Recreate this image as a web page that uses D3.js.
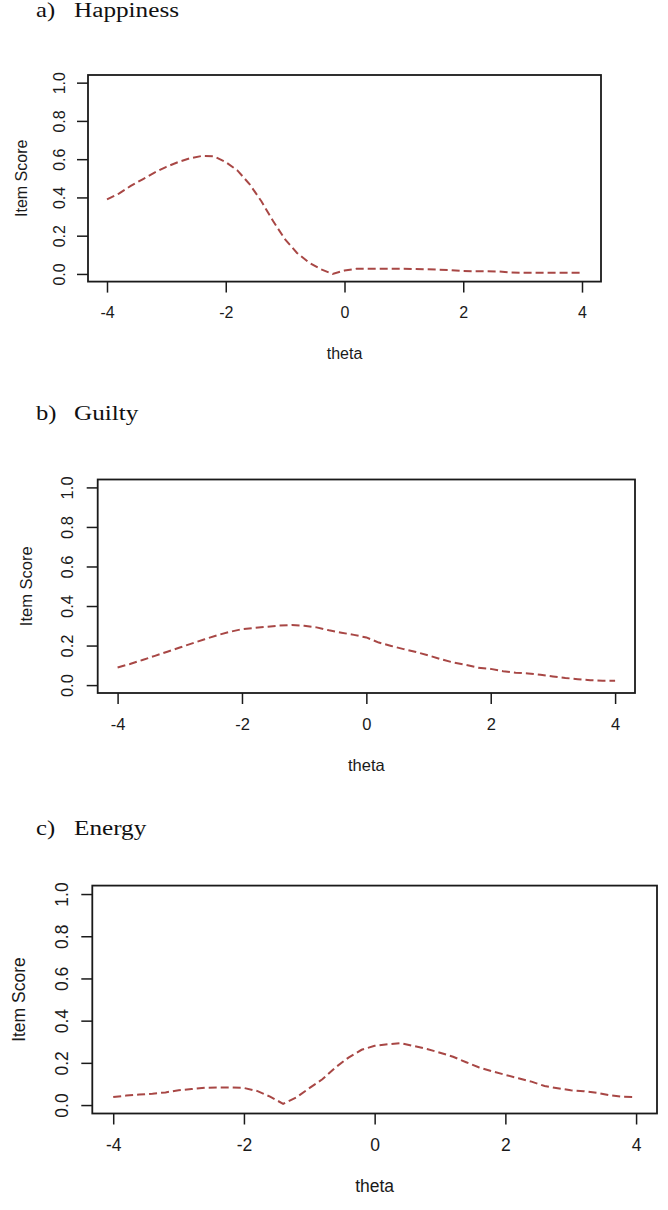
<!DOCTYPE html>
<html>
<head>
<meta charset="utf-8">
<script src="https://cdn.jsdelivr.net/npm/d3@7"></script>
<style>
  html, body { margin: 0; padding: 0; background: #fff; }
  svg { display: block; }
  .tick text { font-family: "Liberation Sans", Arial, sans-serif; fill: #1a1a1a; }
  .tick line { stroke: #1a1a1a; stroke-width: 1.5; }
</style>
</head>
<body>
<svg id="chart" width="668" height="1210"></svg>
<script>
// theta grid used by all three item curves
const theta = d3.range(41).map(i => -4 + i * 0.2);

const happiness = [
    0.39, 0.42, 0.46, 0.495, 0.53, 0.56, 0.585, 0.605, 0.617, 0.615,
    0.585, 0.54, 0.47, 0.38, 0.275, 0.18, 0.11, 0.06, 0.025, 0.0,
    0.018, 0.027, 0.027, 0.027, 0.027, 0.027, 0.026, 0.024, 0.022, 0.02,
    0.015, 0.014, 0.014, 0.013, 0.008, 0.006, 0.006, 0.006, 0.006, 0.006, 0.006
];

const guilty = [
    0.089, 0.107, 0.127, 0.148, 0.169, 0.19, 0.211, 0.232, 0.252, 0.269,
    0.283, 0.289, 0.295, 0.301, 0.304, 0.30, 0.292, 0.277, 0.265, 0.254,
    0.241, 0.215, 0.198, 0.182, 0.167, 0.15, 0.131, 0.114, 0.102, 0.088,
    0.082, 0.07, 0.063, 0.059, 0.052, 0.044, 0.036, 0.03, 0.025, 0.022, 0.022
];

const energy = [
    0.038, 0.045, 0.05, 0.054, 0.06, 0.07, 0.076, 0.082, 0.083, 0.083,
    0.081, 0.067, 0.04, 0.006, 0.036, 0.08, 0.122, 0.178, 0.225, 0.262,
    0.281, 0.288, 0.293, 0.28, 0.266, 0.248, 0.229, 0.203, 0.178, 0.16,
    0.143, 0.127, 0.111, 0.09, 0.08, 0.07, 0.066, 0.058, 0.046, 0.039, 0.038
];

const xTicks = [-4, -2, 0, 2, 4];
const yTicks = [0, 0.2, 0.4, 0.6, 0.8, 1.0];
const panelLetters = ['a)', 'b)', 'c)'];
const panelNames = ['Happiness', 'Guilty', 'Energy'];
const xLabel = 'theta';
const yLabel = 'Item Score';

// layout of each R plot region (pixels), kept apart from the data
const layouts = [
    { left: 88, right: 601, top: 75, bottom: 281.6, titleY: 17, font: 16, yLabX: 21, yTickX: 59 },
    { left: 97.7, right: 635, top: 479.5, bottom: 693, titleY: 420, font: 16.5, yLabX: 26, yTickX: 67 },
    { left: 92.3, right: 657, top: 885.6, bottom: 1113.5, titleY: 835, font: 17.5, yLabX: 19, yTickX: 62 }
];
const seriesList = [happiness, guilty, energy];

const svg = d3.select('#chart');
const lineColor = '#a84745';

function drawPanel(index) {
    const lay = layouts[index];
    const values = seriesList[index];
    const g = svg.append('g').attr('class', 'panel');

    // R pads the axis ranges by 4%
    const x = d3.scaleLinear().domain([-4.32, 4.32]).range([lay.left, lay.right]);
    const y = d3.scaleLinear().domain([-0.04, 1.04]).range([lay.bottom, lay.top]);

    // panel title (word-doc style serif heading)
    const title = g.append('g')
        .attr('transform', `translate(0,${lay.titleY})`)
        .style('font-family', '"Liberation Serif", "Times New Roman", serif')
        .style('font-size', '20.5px')
        .attr('fill', '#111');
    title.append('text')
        .attr('transform', 'translate(36,0) scale(1.2,1)')
        .text(panelLetters[index]);
    title.append('text')
        .attr('transform', 'translate(74,0) scale(1.23,1)')
        .text(panelNames[index]);

    // x axis
    const xAxis = g.append('g')
        .attr('transform', `translate(0,${lay.bottom})`)
        .call(d3.axisBottom(x).tickValues(xTicks).tickSize(11).tickPadding(14)
            .tickFormat(d => String(d).replace('−', '-')));
    xAxis.select('.domain').remove();
    xAxis.selectAll('.tick text')
        .style('font-size', lay.font + 'px')
        .attr('dy', '0.71em');

    // y axis, labels turned like R's default las=0
    const yAxis = g.append('g')
        .attr('transform', `translate(${lay.left},0)`)
        .call(d3.axisLeft(y).tickValues(yTicks).tickSize(11).tickFormat(d3.format('.1f')));
    yAxis.select('.domain').remove();
    yAxis.selectAll('.tick text')
        .style('font-size', lay.font + 'px')
        .attr('x', null)
        .attr('dy', null)
        .attr('text-anchor', 'middle')
        .attr('dominant-baseline', 'central')
        .attr('transform', `translate(${lay.yTickX - lay.left},0) rotate(-90)`);

    // plot frame
    g.append('rect')
        .attr('x', lay.left)
        .attr('y', lay.top)
        .attr('width', lay.right - lay.left)
        .attr('height', lay.bottom - lay.top)
        .attr('fill', 'none')
        .attr('stroke', '#1a1a1a')
        .attr('stroke-width', 1.8);

    // axis titles
    g.append('text')
        .attr('x', (lay.left + lay.right) / 2)
        .attr('y', lay.bottom + 72)
        .attr('text-anchor', 'middle')
        .attr('dominant-baseline', 'central')
        .style('font-family', '"Liberation Sans", Arial, sans-serif')
        .style('font-size', lay.font + 'px')
        .attr('fill', '#1a1a1a')
        .text(xLabel);

    g.append('text')
        .attr('transform', `translate(${lay.yLabX},${(lay.top + lay.bottom) / 2}) rotate(-90)`)
        .attr('text-anchor', 'middle')
        .attr('dominant-baseline', 'central')
        .style('font-family', '"Liberation Sans", Arial, sans-serif')
        .style('font-size', lay.font + 'px')
        .attr('fill', '#1a1a1a')
        .text(yLabel);

    // item response curve
    const line = d3.line()
        .x((d, i) => x(theta[i]))
        .y(d => y(d));

    g.append('path')
        .datum(values)
        .attr('d', line)
        .attr('fill', 'none')
        .attr('stroke', lineColor)
        .attr('stroke-width', 2)
        .attr('stroke-dasharray', '8,4');
}

[0, 1, 2].forEach(drawPanel);
</script>
</body>
</html>
